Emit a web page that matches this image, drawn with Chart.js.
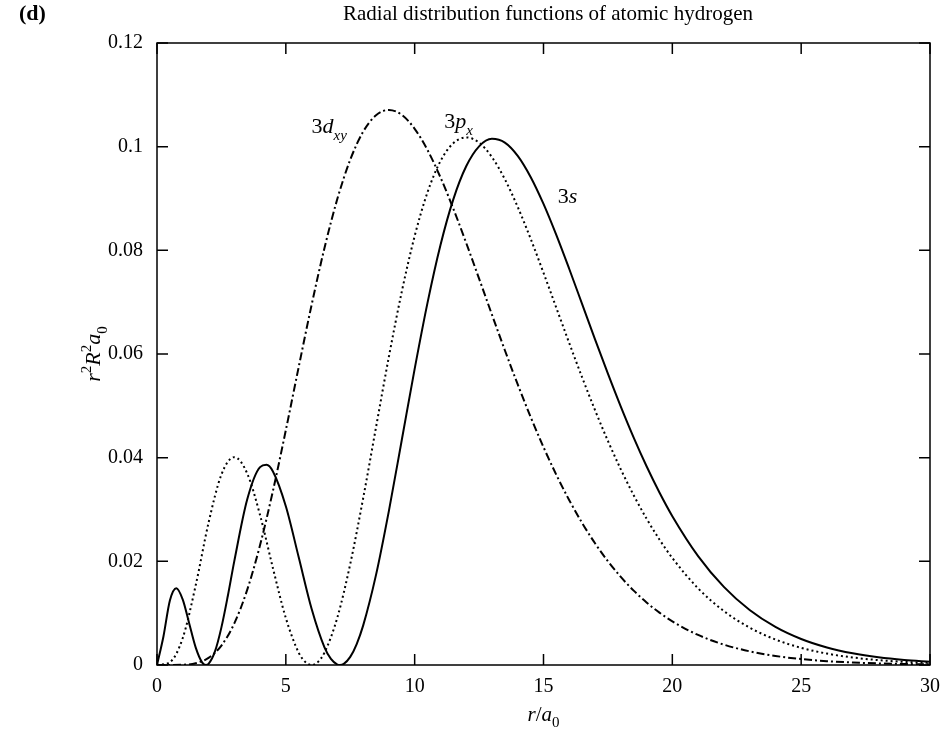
<!DOCTYPE html>
<html>
<head>
<meta charset="utf-8">
<script src="https://cdn.jsdelivr.net/npm/chart.js@4.4.1/dist/chart.umd.min.js"></script>
<style>
  body { margin: 0; background: #fff; }
</style>
</head>
<body>
<canvas id="rdf" width="941" height="730"></canvas>
<script>
// r / a0 grids (finer where the curves turn quickly)
const r3s = [0, 0.25, 0.5, 0.75, 1, 1.25, 1.5, 1.75, 1.9, 2, 2.25, 2.5, 2.75, 3, 3.5, 4, 4.25, 4.5, 5, 5.5, 6, 6.5, 6.75, 7, 7.1, 7.25, 7.5, 7.75,
  8, 8.5, 9, 9.5, 10, 10.5, 11, 11.5, 12, 12.5, 13, 13.5, 14, 14.5, 15, 15.5, 16, 16.5, 17, 17.5, 18, 18.5, 19, 19.5, 20,
  21, 22, 23, 24, 25, 26, 27, 28, 29, 30];
const val3s = [0, 0.005504, 0.012459, 0.014830, 0.012625, 0.008024, 0.003406, 0.000512, 0, 0.000214, 0.002615, 0.007257, 0.013365, 0.020050,
  0.031925, 0.038179, 0.038618, 0.037342, 0.030627, 0.020781, 0.010854, 0.003409, 0.001172, 0.000094, 0, 0.000225, 0.001560, 0.004048,
  0.007598, 0.017382, 0.029746, 0.043400, 0.057129, 0.069919, 0.080993, 0.089842, 0.096215, 0.100064, 0.101510, 0.100796, 0.098228,
  0.094160, 0.088951, 0.082926, 0.076397, 0.069628, 0.062838, 0.056195, 0.049842, 0.043868, 0.038335, 0.033280, 0.028713,
  0.021012, 0.015067, 0.010610, 0.007351, 0.005019, 0.003382, 0.002252, 0.001483, 0.000967, 0.000624];

const r3p = [0, 0.5, 1, 1.5, 2, 2.5, 3, 3.5, 4, 4.5, 5, 5.5, 5.75, 6, 6.25, 6.5, 7, 7.5, 8, 8.5, 9, 9.5, 10,
  10.5, 11, 11.5, 12, 12.5, 13, 13.5, 14, 14.5, 15, 15.5, 16, 16.5, 17, 17.5, 18, 18.5, 19, 19.5, 20,
  21, 22, 23, 24, 25, 26, 27, 28, 29, 30];
const val3p = [0, 0.000551, 0.005217, 0.015328, 0.027428, 0.036735, 0.040101, 0.036965, 0.028917, 0.018671, 0.009061, 0.002377,
  0.000601, 0, 0.000601, 0.002380, 0.009177, 0.019497, 0.032151, 0.045868, 0.059492, 0.072032, 0.082759,
  0.091227, 0.097205, 0.100675, 0.101782, 0.100774, 0.097967, 0.093715, 0.088363, 0.082246, 0.075667,
  0.068874, 0.062087, 0.055473, 0.049159, 0.043229, 0.037750, 0.032750, 0.028238, 0.024209, 0.020644,
  0.014789, 0.010406, 0.007205, 0.004917, 0.003312, 0.002204, 0.001451, 0.000945, 0.000611, 0.000391];

const r3d = [0, 0.5, 1, 1.5, 2, 2.5, 3, 3.5, 4, 4.5, 5, 5.5, 6, 6.5, 7, 7.5, 8, 8.5, 9, 9.5, 10,
  10.5, 11, 11.5, 12, 12.5, 13, 13.5, 14, 14.5, 15, 15.5, 16, 16.5, 17, 17.5, 18, 18.5, 19, 19.5, 20,
  21, 22, 23, 24, 25, 26, 27, 28, 29, 30];
const val3d = [0, 0.000001, 0.000042, 0.000341, 0.001371, 0.003749, 0.008020, 0.014490, 0.023134, 0.033609, 0.045306,
  0.057514, 0.069466, 0.080460, 0.089935, 0.097482, 0.102882, 0.106047, 0.107085, 0.106136, 0.103448,
  0.099336, 0.094093, 0.088029, 0.081426, 0.074538, 0.067578, 0.060728, 0.054122, 0.047868, 0.042037,
  0.036670, 0.031789, 0.027397, 0.023483, 0.020022, 0.016988, 0.014347, 0.012064, 0.010102, 0.008426,
  0.005797, 0.003935, 0.002638, 0.001748, 0.001147, 0.000745, 0.000480, 0.000306, 0.000194, 0.000122];

const xTicks = [0, 5, 10, 15, 20, 25, 30];
const yTicks = [0, 0.02, 0.04, 0.06, 0.08, 0.1, 0.12];

// curve labels: [r, value, base, subscript]
const curveLabels = [
  [6.0, 0.1026, "d", "xy"],
  [11.15, 0.1036, "p", "x"],
  [15.55, 0.0891, "s", ""],
];

const SERIF = "'Liberation Serif', 'DejaVu Serif', serif";

function pts(xs, ys) {
  return xs.map((x, i) => ({ x: x, y: ys[i] }));
}

// draw a row of text pieces: {t, it, sub, sup}
function richText(ctx, runs, x, y, size, align) {
  const fontFor = r => (r.it ? "italic " : "") + Math.round((r.sub || r.sup) ? size * 0.7 : size) + "px " + SERIF;
  let w = 0;
  runs.forEach(r => { ctx.font = fontFor(r); w += ctx.measureText(r.t).width; });
  let cx = align === "center" ? x - w / 2 : x;
  ctx.textAlign = "left";
  ctx.textBaseline = "alphabetic";
  runs.forEach(r => {
    ctx.font = fontFor(r);
    let dy = r.sub ? size * 0.3 : r.sup ? -size * 0.4 : 0;
    ctx.fillText(r.t, cx, y + dy);
    cx += ctx.measureText(r.t).width;
  });
}

const framePlugin = {
  id: "frame",
  afterDraw(chart) {
    const { ctx, chartArea: a, scales } = chart;
    const x = scales.x, y = scales.y;
    ctx.save();
    ctx.strokeStyle = "#000";
    ctx.lineWidth = 1.5;
    ctx.strokeRect(a.left, a.top, a.right - a.left, a.bottom - a.top);

    const len = 11;
    ctx.beginPath();
    xTicks.forEach(v => {
      const px = x.getPixelForValue(v);
      ctx.moveTo(px, a.bottom); ctx.lineTo(px, a.bottom - len);
      ctx.moveTo(px, a.top); ctx.lineTo(px, a.top + len);
    });
    yTicks.forEach(v => {
      const py = y.getPixelForValue(v);
      ctx.moveTo(a.left, py); ctx.lineTo(a.left + len, py);
      ctx.moveTo(a.right, py); ctx.lineTo(a.right - len, py);
    });
    ctx.stroke();

    ctx.fillStyle = "#000";
    // title and panel letter
    ctx.font = "21px " + SERIF;
    ctx.textAlign = "center";
    ctx.textBaseline = "middle";
    ctx.fillText("Radial distribution functions of atomic hydrogen", 548, 14);
    ctx.font = "bold 22px " + SERIF;
    ctx.textAlign = "left";
    ctx.fillText("(d)", 19, 14);

    // axis titles
    richText(ctx, [{ t: "r", it: true }, { t: "/" }, { t: "a", it: true }, { t: "0", sub: true }],
      (a.left + a.right) / 2, 721, 21, "center");
    ctx.save();
    ctx.translate(100, (a.top + a.bottom) / 2);
    ctx.rotate(-Math.PI / 2);
    richText(ctx, [{ t: "r", it: true }, { t: "2", sup: true }, { t: "R", it: true }, { t: "2", sup: true },
      { t: "a", it: true }, { t: "0", sub: true }], 0, 0, 22, "center");
    ctx.restore();

    // curve labels
    curveLabels.forEach(c => {
      const runs = [{ t: "3" }, { t: c[2], it: true }];
      if (c[3]) runs.push({ t: c[3], it: true, sub: true });
      richText(ctx, runs, x.getPixelForValue(c[0]), y.getPixelForValue(c[1]), 22, "left");
    });
    ctx.restore();
  }
};

const line = (label, xs, ys, dash, width) => ({
  label: label,
  data: pts(xs, ys),
  borderColor: "#000",
  borderWidth: width,
  borderDash: dash,
  pointRadius: 0,
  fill: false,
  cubicInterpolationMode: "monotone",
});

new Chart(document.getElementById("rdf"), {
  type: "line",
  data: {
    datasets: [
      line("3s", r3s, val3s, [], 2),
      line("3p", r3p, val3p, [2, 3], 2),
      line("3d", r3d, val3d, [8, 3, 2, 3], 2),
    ],
  },
  options: {
    responsive: false,
    animation: false,
    devicePixelRatio: 1,
    layout: { padding: { top: 43, right: 0, bottom: 0, left: 0 } },
    plugins: {
      legend: { display: false },
      tooltip: { enabled: false },
    },
    scales: {
      x: {
        type: "linear",
        min: 0,
        max: 30,
        grid: { display: false, drawTicks: false },
        border: { display: false },
        ticks: {
          stepSize: 5,
          color: "#000",
          padding: 10,
          maxRotation: 0,
          font: { family: SERIF, size: 20 },
        },
        afterFit(s) {
          s.height = 65;
          s.paddingLeft = 0;
          s.paddingRight = 11;
        },
      },
      y: {
        min: 0,
        max: 0.12,
        grid: { display: false, drawTicks: false },
        border: { display: false },
        ticks: {
          stepSize: 0.02,
          color: "#000",
          padding: 14,
          font: { family: SERIF, size: 20 },
          callback: v => String(+v.toFixed(2)),
        },
        afterFit(s) { s.width = 157; },
      },
    },
  },
  plugins: [framePlugin],
});
</script>
</body>
</html>
